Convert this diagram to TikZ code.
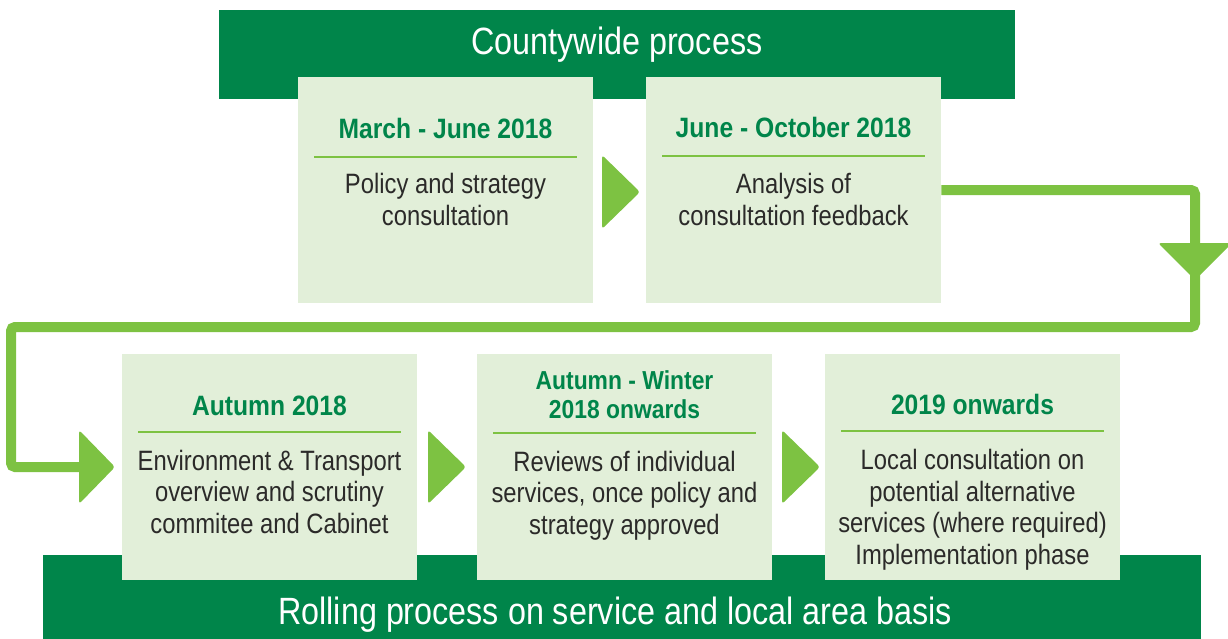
\documentclass[tikz,border=0pt]{standalone}
\usepackage{fontspec}
\setmainfont{Liberation Sans}[FakeStretch=0.85]
\newfontfamily\bodyfont{Liberation Sans}[FakeStretch=0.85]
\newfontfamily\headfont{Liberation Sans}[FakeStretch=0.88]
\definecolor{dkgreen}{RGB}{0,133,74}
\definecolor{ltgreen}{RGB}{226,239,217}
\definecolor{brgreen}{RGB}{125,194,66}
\definecolor{txtgray}{RGB}{43,42,41}
\begin{document}
\begin{tikzpicture}[x=1pt,y=-1pt,
  banner/.style={fill=dkgreen, draw=none, inner sep=0, anchor=north west},
  bannertext/.style={text=white, inner sep=0, anchor=base, font=\bodyfont\fontsize{38}{42}\selectfont},
  panel/.style={fill=ltgreen, draw=none, minimum width=295, minimum height=226, inner sep=0, anchor=north west},
  title/.style={text=dkgreen, inner sep=0, anchor=base, align=center, font=\headfont\bfseries\fontsize{28}{29}\selectfont},
  body/.style={text=txtgray, inner sep=0, anchor=base, align=center, font=\bodyfont\fontsize{28}{31.5}\selectfont},
  sep/.style={draw=brgreen, line width=2.2},
  conn/.style={draw=brgreen, line width=10, rounded corners=4},
  tri/.style={fill=brgreen, rounded corners=3}
]
\useasboundingbox (0,0) rectangle (1228,639);
\clip (0,0) rectangle (1228,639);

% banners
\node[banner, minimum width=796, minimum height=89] (top) at (219,10) {};
\node[bannertext] (toptext) at (617,55) {Countywide process};
\node[banner, minimum width=1158, minimum height=90] (bot) at (43,555) {};

% panels
\node[panel] (b1) at (298,77) {};
\node[panel] (b2) at (646,77) {};
\node[panel] (b3) at (122,354) {};
\node[panel] (b4) at (477,354) {};
\node[panel] (b5) at (825,354) {};

\node[bannertext] (bottext) at (615,624) {Rolling process on service and local area basis};

% separators
\draw[sep] ([shift={(16,80)}]b1.north west) -- ([shift={(-16,80)}]b1.north east);
\draw[sep] ([shift={(16,79)}]b2.north west) -- ([shift={(-16,79)}]b2.north east);
\draw[sep] ([shift={(16,78)}]b3.north west) -- ([shift={(-16,78)}]b3.north east);
\draw[sep] ([shift={(16,79)}]b4.north west) -- ([shift={(-16,79)}]b4.north east);
\draw[sep] ([shift={(16,77)}]b5.north west) -- ([shift={(-16,77)}]b5.north east);

% titles (anchor = baseline of last line)
\node[title] (t1) at (445.5,139) {March - June 2018};
\node[title] (t2) at (793.5,138) {June - October 2018};
\node[title] (t3) at (269.5,415) {Autumn 2018};
\node[title, font=\headfont\bfseries\fontsize{26}{29}\selectfont] (t4) at (624.5,418) {Autumn - Winter\\2018 onwards};
\node[title] (t5) at (972.5,414) {2019 onwards};

% bodies (anchor = baseline of last line)
\node[body] (d1) at (445.5,225) {Policy and strategy\\consultation};
\node[body] (d2) at (793.5,225) {Analysis of\\consultation feedback};
\node[body] (d3) at (269.5,533) {Environment \& Transport\\overview and scrutiny\\commitee and Cabinet};
\node[body] (d4) at (624.5,534) {Reviews of individual\\services, once policy and\\strategy approved};
\node[body] (d5) at (972.5,564) {Local consultation on\\potential alternative\\services (where required)\\Implementation phase};

% arrow heads
\coordinate (a12) at (640,192);
\coordinate (ain) at (115,467);
\coordinate (a34) at (466,467);
\coordinate (a45) at (820,467);
\coordinate (adn) at (1195,280);
\fill[tri] (a12) -- ++(-38,-37) -- ++(0,74) -- cycle;
\fill[tri] (a34) -- ++(-38,-37) -- ++(0,74) -- cycle;
\fill[tri] (a45) -- ++(-38,-37) -- ++(0,74) -- cycle;

% main connector
\coordinate (c1) at (1195,190);
\coordinate (c2) at (1195,327);
\coordinate (c3) at (11,327);
\coordinate (c4) at (11,467);
\draw[conn] (b2.east) -- (c1) -- (c2) -- (c3) -- (c4) -- ([xshift=-30]ain);
\fill[tri] (ain) -- ++(-36,-37) -- ++(0,74) -- cycle;
\fill[tri] (adn) -- ++(-37,-37) -- ++(74,0) -- cycle;
\end{tikzpicture}
\end{document}
